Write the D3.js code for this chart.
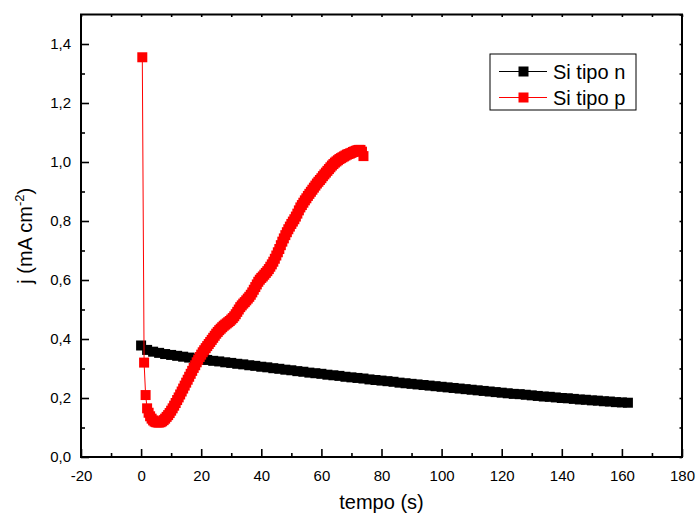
<!DOCTYPE html>
<html><head><meta charset="utf-8">
<script src="https://cdn.jsdelivr.net/npm/d3@7/dist/d3.min.js"></script>
<style>body{margin:0;background:#fff}svg{display:block}text{font-family:Arial,"Liberation Sans",sans-serif}</style>
</head><body><svg id="c" width="696" height="520"></svg>
<script>
// Si tipo n (black)
const timeN = [0,2,4,6,8,10,12,14,16,18,20,22,24,26,28,30,32,34,36,38,40,42,44,46,48,50,52,54,56,58,60,62,64,66,68,70,72,74,76,78,80,82,84,86,88,90,92,94,96,98,100,102,104,106,108,110,112,114,116,118,120,122,124,126,128,130,132,134,136,138,140,142,144,146,148,150,152,154,156,158,160,162];
const jN = [0.378,0.363,0.357,0.353,0.349,0.346,0.343,0.340,0.337,0.334,0.331,0.329,0.326,0.324,0.321,0.319,0.316,0.314,0.311,0.309,0.306,0.304,0.301,0.299,0.296,0.294,0.291,0.289,0.286,0.284,0.282,0.279,0.277,0.275,0.272,0.270,0.268,0.266,0.263,0.261,0.259,0.257,0.255,0.252,0.250,0.248,0.246,0.244,0.242,0.240,0.238,0.236,0.234,0.232,0.230,0.228,0.226,0.224,0.222,0.220,0.218,0.216,0.214,0.213,0.211,0.209,0.207,0.205,0.204,0.202,0.200,0.199,0.197,0.195,0.194,0.192,0.191,0.189,0.188,0.186,0.185,0.184];
// Si tipo p (red)
const timeP = [0.4,1.0,1.5,2,2.5,3,3.5,4,4.5,5,5.5,6,6.5,7,7.5,8,8.5,9,9.5,10,10.5,11,11.5,12,12.5,13,13.5,14,14.5,15,15.5,16,16.5,17,17.5,18,18.5,19,19.5,20,20.5,21,21.5,22,22.5,23,23.5,24,24.5,25,25.5,26,26.5,27,27.5,28,28.5,29,29.5,30,30.5,31,31.5,32,32.5,33,33.5,34,34.5,35,35.5,36,36.5,37,37.5,38,38.5,39,39.5,40,40.5,41,41.5,42,42.5,43,43.5,44,44.5,45,45.5,46,46.5,47,47.5,48,48.5,49,49.5,50,50.5,51,51.5,52,52.5,53,53.5,54,54.5,55,55.5,56,56.5,57,57.5,58,58.5,59,59.5,60,60.5,61,61.5,62,62.5,63,63.5,64,64.5,65,65.5,66,66.5,67,67.5,68,68.5,69,69.5,70,70.5,71,71.5,72,72.5,73,73.5,74];
const jP = [1.355,0.320,0.210,0.165,0.150,0.138,0.130,0.124,0.120,0.118,0.117,0.117,0.118,0.121,0.125,0.130,0.136,0.142,0.149,0.157,0.165,0.174,0.183,0.193,0.202,0.212,0.222,0.232,0.242,0.252,0.262,0.272,0.282,0.292,0.302,0.311,0.321,0.330,0.339,0.347,0.355,0.362,0.369,0.376,0.383,0.390,0.397,0.404,0.411,0.418,0.424,0.430,0.435,0.440,0.445,0.449,0.453,0.457,0.461,0.466,0.471,0.477,0.484,0.492,0.500,0.508,0.514,0.520,0.525,0.531,0.537,0.543,0.550,0.558,0.567,0.576,0.585,0.594,0.601,0.607,0.612,0.618,0.624,0.630,0.637,0.645,0.653,0.662,0.672,0.683,0.694,0.705,0.718,0.730,0.741,0.752,0.762,0.772,0.781,0.790,0.798,0.806,0.815,0.825,0.836,0.846,0.854,0.862,0.870,0.877,0.885,0.892,0.899,0.906,0.913,0.920,0.927,0.933,0.939,0.945,0.952,0.958,0.964,0.970,0.976,0.982,0.988,0.993,0.998,1.002,1.006,1.010,1.013,1.016,1.019,1.022,1.025,1.027,1.029,1.031,1.034,1.036,1.038,1.040,1.041,1.041,1.035,1.020];
const xTicks = [-20,0,20,40,60,80,100,120,140,160,180];
const yTicks = [0,0.2,0.4,0.6,0.8,1.0,1.2,1.4];
const seriesNames = ["Si tipo n","Si tipo p"];
const seriesColors = ["#000000","#ff0000"];

const svg = d3.select("#c");
const L=81,R=682,T=14.5,B=457;
const x = d3.scaleLinear().domain([-20,180]).range([L,R]);
const y = d3.scaleLinear().domain([0,1.5]).range([B,T]);
const fmt = d => d3.format(".1f")(d).replace(".",",");

// frame
svg.append("rect").attr("x",L).attr("y",T).attr("width",R-L).attr("height",B-T)
  .attr("fill","none").attr("stroke","#000").attr("stroke-width",2);

// bottom axis
const xMinor = d3.range(-20,181,10);
const gx = svg.append("g").attr("transform",`translate(0,${B})`)
  .call(d3.axisBottom(x).tickValues(xTicks).tickSize(-8).tickPadding(13).tickFormat(d => String(d)));
gx.append("g").call(d3.axisBottom(x).tickValues(xMinor.filter(v=>v%20!==0)).tickSize(-4).tickFormat(""));
// left axis
const yMinor = d3.range(0.1,1.5,0.2);
const gy = svg.append("g").attr("transform",`translate(${L},0)`)
  .call(d3.axisLeft(y).tickValues(yTicks).tickSize(-8).tickPadding(10).tickFormat(fmt));
gy.append("g").call(d3.axisLeft(y).tickValues(yMinor).tickSize(-4).tickFormat(""));
// top & right small ticks
svg.append("g").attr("transform",`translate(0,${T})`)
  .call(d3.axisTop(x).tickValues(xMinor).tickSize(-2.5).tickFormat(""));
svg.append("g").attr("transform",`translate(${R},0)`)
  .call(d3.axisRight(y).tickValues(d3.range(0,1.51,0.1)).tickSize(-2.5).tickFormat(""));
svg.selectAll(".domain").remove();
svg.selectAll(".tick line").attr("stroke","#000").attr("stroke-width",1.6);
svg.selectAll(".tick text").attr("font-size",15).attr("fill","#000").style("font-family","Arial, 'Liberation Sans', sans-serif");

const S=10;
function drawSeries(xs, ys, color){
  const pts = xs.map((t,i)=>[x(t),y(ys[i])]);
  svg.append("path").attr("d",d3.line()(pts)).attr("fill","none").attr("stroke",color).attr("stroke-width",1);
  svg.append("g").selectAll("rect").data(pts).join("rect")
    .attr("x",d=>d[0]-S/2).attr("y",d=>d[1]-S/2).attr("width",S).attr("height",S).attr("fill",color);
}
drawSeries(timeN, jN, seriesColors[0]);
drawSeries(timeP, jP, seriesColors[1]);

// axis titles
svg.append("text").attr("x",(L+R)/2).attr("y",509).attr("text-anchor","middle").attr("font-size",20).text("tempo (s)");
const yt = svg.append("text").attr("transform",`translate(32,${(T+B)/2}) rotate(-90)`).attr("text-anchor","middle").attr("font-size",20);
yt.append("tspan").text("j (mA cm");
yt.append("tspan").attr("font-size",13).attr("dy",-8).text("-2");
yt.append("tspan").attr("dy",8).text(")");

// legend
const lg = svg.append("g");
lg.append("rect").attr("x",490).attr("y",54).attr("width",146).attr("height",56).attr("fill","#fff").attr("stroke","#000").attr("stroke-width",1);
seriesNames.forEach((n,i)=>{
  const cy = 71.5 + i*26;
  lg.append("line").attr("x1",499).attr("x2",547).attr("y1",cy).attr("y2",cy).attr("stroke",seriesColors[i]).attr("stroke-width",1);
  lg.append("rect").attr("x",518.5).attr("y",cy-5).attr("width",10).attr("height",10).attr("fill",seriesColors[i]);
  lg.append("text").attr("x",553).attr("y",cy+7).attr("font-size",20).text(n);
});
</script></body></html>
